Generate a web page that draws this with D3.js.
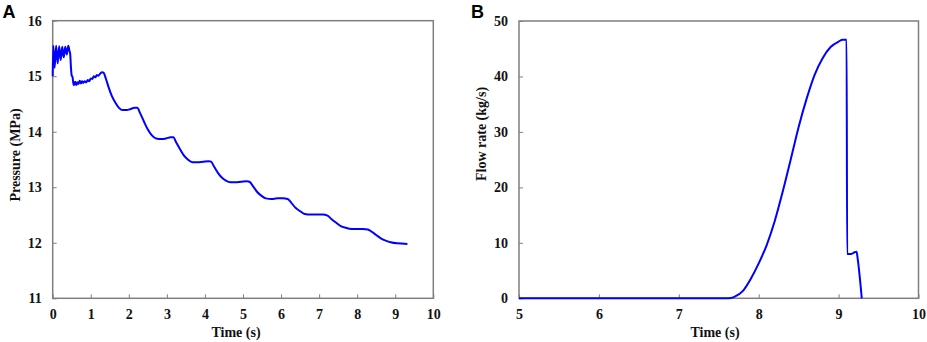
<!DOCTYPE html>
<html>
<head>
<meta charset="utf-8">
<script src="https://cdn.jsdelivr.net/npm/d3@7"></script>
<style>
  body { margin: 0; background: #fff; }
  .tick line { stroke: #7f7f7f; }
  .title { font-family: "Liberation Serif", "Times New Roman", serif; font-weight: bold; font-size: 14px; fill: #111; }
  .panel { font-family: "Liberation Sans", Arial, sans-serif; font-weight: bold; font-size: 18px; fill: #000; }
</style>
</head>
<body>
<svg id="chart" width="927" height="342"></svg>
<script>
// panel A: pressure vs time
const pressTime = [0, 0.015, 0.05, 0.09, 0.13, 0.17, 0.21, 0.25, 0.29, 0.33, 0.37, 0.41, 0.44, 0.46, 0.48, 0.50, 0.52, 0.55, 0.57, 0.59, 0.62, 0.65, 0.68, 0.71, 0.74, 0.77, 0.80, 0.84, 0.88, 0.92, 0.96, 1.00, 1.04, 1.08, 1.12, 1.16, 1.20, 1.25, 1.30, 1.34, 1.40, 1.47, 1.55, 1.64, 1.74, 1.84, 1.95, 2.05, 2.15, 2.22, 2.30, 2.40, 2.50, 2.60, 2.72, 2.85, 2.98, 3.10, 3.17, 3.25, 3.35, 3.45, 3.55, 3.67, 3.80, 3.95, 4.10, 4.16, 4.25, 4.35, 4.45, 4.55, 4.67, 4.80, 4.95, 5.10, 5.17, 5.27, 5.38, 5.48, 5.60, 5.75, 5.90, 6.05, 6.17, 6.27, 6.38, 6.50, 6.62, 6.78, 6.95, 7.10, 7.22, 7.32, 7.45, 7.57, 7.70, 7.85, 8.00, 8.15, 8.28, 8.38, 8.50, 8.62, 8.75, 8.88, 9.05, 9.32];
const pressure = [15.00, 15.55, 15.15, 15.55, 15.23, 15.54, 15.29, 15.53, 15.34, 15.53, 15.39, 15.55, 15.46, 15.40, 15.15, 15.01, 14.99, 14.84, 14.86, 14.90, 14.84, 14.89, 14.86, 14.92, 14.87, 14.91, 14.88, 14.91, 14.89, 14.93, 14.91, 14.96, 14.95, 15.00, 14.98, 15.02, 15.01, 15.05, 15.07, 15.06, 14.95, 14.80, 14.65, 14.53, 14.43, 14.39, 14.39, 14.41, 14.43, 14.43, 14.33, 14.18, 14.04, 13.94, 13.88, 13.87, 13.88, 13.90, 13.90, 13.80, 13.68, 13.57, 13.50, 13.45, 13.45, 13.46, 13.47, 13.46, 13.36, 13.25, 13.17, 13.12, 13.09, 13.09, 13.10, 13.11, 13.10, 13.01, 12.91, 12.85, 12.80, 12.79, 12.80, 12.80, 12.79, 12.72, 12.63, 12.57, 12.52, 12.51, 12.51, 12.51, 12.49, 12.43, 12.36, 12.30, 12.27, 12.25, 12.25, 12.25, 12.24, 12.20, 12.14, 12.08, 12.04, 12.01, 11.99, 11.98];
const pressXTicks = [0, 1, 2, 3, 4, 5, 6, 7, 8, 9, 10];
const pressYTicks = [11, 12, 13, 14, 15, 16];

// panel B: flow rate vs time
const flowTime = [5.00, 7.60, 7.65, 7.70, 7.80, 7.90, 8.00, 8.10, 8.20, 8.30, 8.40, 8.50, 8.60, 8.70, 8.80, 8.90, 9.00, 9.05, 9.10, 9.107, 9.16, 9.20, 9.225, 9.24, 9.29];
const flowRate = [0, 0, 0.05, 0.3, 1.3, 3.5, 6.3, 9.6, 13.9, 19.2, 25.0, 30.9, 36.0, 40.3, 43.3, 45.3, 46.3, 46.6, 46.6, 8.0, 8.0, 8.3, 8.4, 7.0, 0];
const flowXTicks = [5, 6, 7, 8, 9, 10];
const flowYTicks = [0, 10, 20, 30, 40, 50];

const $svg = d3.select("#chart");

const styleTicks = (g) => {
	g.select(".domain").remove();
	g.attr("font-family", '"Liberation Serif", "Times New Roman", serif')
		.attr("font-size", 14)
		.attr("font-weight", "bold");
	g.selectAll(".tick text").attr("fill", "#111");
};

const drawPanel = (opts) => {
	const { box, xDomain, yDomain, xs, ys, xTicks, yTicks, xTitle, yTitle, label } = opts;

	const x = d3.scaleLinear().domain(xDomain).range([box.left, box.right]);
	const y = d3.scaleLinear().domain(yDomain).range([box.bottom, box.top]);

	const $g = $svg.append("g");

	// x-axis, ticks pointing inward
	$g.append("g")
		.attr("transform", `translate(0,${box.bottom})`)
		.call(d3.axisBottom(x).tickValues(xTicks).tickFormat(d3.format("d"))
			.tickSizeInner(-4).tickSizeOuter(0).tickPadding(11))
		.call(styleTicks);

	// y-axis
	$g.append("g")
		.attr("transform", `translate(${box.left},0)`)
		.call(d3.axisLeft(y).tickValues(yTicks).tickFormat(d3.format("d"))
			.tickSizeInner(-4).tickSizeOuter(0).tickPadding(11))
		.call(styleTicks);

	// frame
	$g.append("rect")
		.attr("x", box.left)
		.attr("y", box.top)
		.attr("width", box.right - box.left)
		.attr("height", box.bottom - box.top)
		.attr("fill", "none")
		.attr("stroke", "#7f7f7f")
		.attr("stroke-width", 1.5);

	const line = d3.line()
		.x((d, i) => x(xs[i]))
		.y((d, i) => y(ys[i]))
		.curve(d3.curveMonotoneX);

	$g.append("path")
		.attr("d", line(xs))
		.attr("fill", "none")
		.attr("stroke", "#0000ff")
		.attr("stroke-width", 2)
		.attr("stroke-linejoin", "round");

	$g.append("text")
		.attr("class", "title")
		.attr("x", xTitle.x)
		.attr("y", xTitle.y)
		.attr("dy", "0.35em")
		.attr("text-anchor", "middle")
		.text(xTitle.text);

	$g.append("text")
		.attr("class", "title")
		.attr("transform", `translate(${yTitle.x},${yTitle.y}) rotate(-90)`)
		.attr("dy", "0.35em")
		.attr("text-anchor", "middle")
		.text(yTitle.text);

	$g.append("text")
		.attr("class", "panel")
		.attr("x", label.x)
		.attr("y", label.y)
		.text(label.text);
};

drawPanel({
	box: { left: 52.7, right: 433.3, top: 20.7, bottom: 298.3 },
	xDomain: [0, 10], yDomain: [11, 16],
	xs: pressTime, ys: pressure,
	xTicks: pressXTicks, yTicks: pressYTicks,
	xTitle: { x: 236, y: 332, text: "Time (s)" },
	yTitle: { x: 15, y: 155, text: "Pressure (MPa)" },
	label: { x: 2.5, y: 18, text: "A" }
});

drawPanel({
	box: { left: 519, right: 918.5, top: 21, bottom: 298.3 },
	xDomain: [5, 10], yDomain: [0, 50],
	xs: flowTime, ys: flowRate,
	xTicks: flowXTicks, yTicks: flowYTicks,
	xTitle: { x: 715, y: 332, text: "Time (s)" },
	yTitle: { x: 481, y: 134, text: "Flow rate (kg/s)" },
	label: { x: 471, y: 18, text: "B" }
});
</script>
</body>
</html>
